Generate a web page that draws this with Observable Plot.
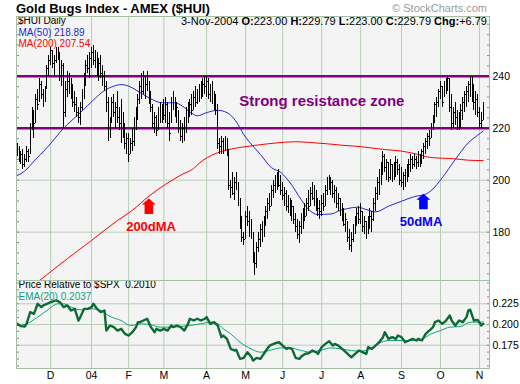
<!DOCTYPE html>
<html>
<head>
<meta charset="utf-8">
<script src="https://cdn.jsdelivr.net/npm/d3@7"></script>
<script src="https://cdn.jsdelivr.net/npm/@observablehq/plot@0.6"></script>
<style>
html, body { margin: 0; padding: 0; background: #ffffff; }
#chart { position: relative; width: 520px; height: 384px; overflow: hidden; background: #ffffff; font-family: 'Liberation Sans', Arial, sans-serif; }
#chart svg { position: absolute; left: 0; }
.lbl { position: absolute; white-space: nowrap; }
#title { left: 16px; top: 1.7px; font-size: 13px; line-height: 13px; font-weight: bold; color: #000; }
#copy { right: 33px; top: 3.4px; font-size: 11px; line-height: 11px; color: #9a9a9a; }
#hdr { right: 33px; top: 16.4px; font-size: 11px; line-height: 11px; color: #000; }
</style>
</head>
<body>
<div id="chart"></div>
<script>
// ---------------- text ----------------
const chartTitle = "Gold Bugs Index - AMEX ($HUI)";
const copyright = "\u00a9 StockCharts.com";
const symbolLabel = "$HUI Daily";
const lastDate = "3-Nov-2004";
const lastOpen = "223.00", lastHigh = "229.79", lastLow = "223.00", lastClose = "229.79", lastChg = "+6.79";
const resistanceLabel = "Strong resistance zone";

// ---------------- axes / ticks ----------------
const monthDay = [18, 40, 60, 79, 102, 123, 143, 164, 185, 207, 228, 249]; // trading-day index of first session of month
const monthLabel = ["D", "04", "F", "M", "A", "M", "J", "J", "A", "S", "O", "N"];
const priceTicks = [180, 200, 220, 240];
const relTicks = [0.175, 0.200, 0.225];
const resistance = [240, 220];

// ---------------- daily bars (trading-day index 0 = 4-Nov-2003) ----------------
const high = [
  214,213,211,212,210,213,212,222,228,227,
  233,235,239,238,235,236,244,248,251,250,
  248,251,251,249,246,245,238,242,241,239,
  237,234,232,228,230,235,241,246,248,249,
  251,252,250,249,247,248,244,242,238,232,
  224,232,233,230,234,228,231,226,222,218,
  218,216,220,224,228,233,238,241,242,240,
  242,238,234,229,226,225,228,230,229,231,
  232,230,226,232,234,232,230,227,223,222,
  224,228,230,231,233,234,236,235,237,238,
  239,240,240,239,237,238,234,233,229,216,
  217,216,217,216,212,200,203,201,203,199,
  193,186,180,188,190,188,185,180,172,176,
  180,183,184,186,190,193,195,198,200,202,
  203,204,202,199,197,196,194,193,192,190,
  187,185,184,187,189,191,193,196,197,199,
  198,196,193,192,194,195,198,201,202,201,
  200,198,197,195,193,191,189,187,184,181,
  180,183,186,189,190,191,188,186,184,186,
  189,188,193,197,201,204,207,211,210,208,
  207,208,206,207,209,208,206,205,203,204,
  206,208,210,209,210,209,211,210,212,214,
  216,218,219,222,225,230,232,235,238,236,
  238,239,240,239,233,228,230,227,226,229,
  232,234,236,238,240,240,237,234,233,228,
  226,229.79
];
const low = [
  209,207,206,204,205,207,207,210,219,216,
  222,227,230,231,228,230,235,240,244,243,
  240,245,246,238,236,220,224,232,233,231,
  228,226,224,222,221,227,231,236,241,239,
  243,244,243,240,238,239,236,234,226,215,
  216,222,224,220,222,219,214,216,212,210,
  207,210,211,213,219,223,229,231,233,231,
  234,229,226,220,218,217,219,222,222,223,
  222,220,215,222,227,224,222,218,215,214,
  215,218,222,224,225,227,228,229,230,231,
  232,233,232,231,230,229,227,225,212,210,
  210,210,211,209,196,193,194,192,196,190,
  181,176,175,177,182,178,177,168,163.5,166,
  172,174,176,178,182,185,188,190,193,195,
  196,197,194,192,190,188,187,186,184,183,
  180,177,175.5,179,181,184,186,188,190,192,
  190,188,186,185,186,188,190,194,196,194,
  193,191,189,188,186,184,182,180,176,173,
  172,176,179,182,183,183,180,179,177,179,
  181,180,184,188,192,194,198,202,203,200,
  199,200,199,200,201,202,198,197,196,197,
  199,201,203,204,205,204,205,205,206,208,
  210,212,213,216,219,222,224,228,231,228,
  232,233,234,226,219,220,221,219,219,220,
  223,226,228,230,232,230,227,225,224,220,
  220,223
];
const close = [
  211,208,210,206,208,211,209,220,226,222,
  231,229,237,233,232,234,243,246,250,245,
  246,249,248,240,244,226,235,238,236,233,
  230,229,226,224,228,233,239,244,243,247,
  249,246,248,242,245,241,240,236,230,218,
  222,230,226,228,224,222,216,220,214,216,
  210,214,215,221,226,231,236,234,240,237,
  239,231,228,222,224,219,226,224,227,225,
  229,222,218,230,231,226,228,220,217,220,
  218,226,224,229,227,232,230,233,235,233,
  237,236,238,233,235,231,232,227,214,213,
  215,212,214,211,198,197,195,199,197,192,
  183,178,177,186,184,180,183,170,168,174,
  177,181,178,184,188,191,190,196,198,199,
  201,198,196,194,195,190,192,188,190,185,
  182,179,182,181,187,186,191,190,195,193,
  196,190,189,188,191,190,196,199,197,199,
  195,196,191,193,188,186,183,185,178,175,
  177,181,184,187,185,188,182,184,179,184,
  186,185,191,195,199,202,205,209,205,207,
  201,206,203,202,207,204,200,199,202,201,
  204,206,208,206,208,207,209,208,211,213,
  215,217,216,221,223,229,230,234,236,230,
  237,238,239,228,222,226,224,221,224,227,
  230,233,234,237,235,233,230,231,226,222,
  223,229.79
];

// ---------------- moving averages ----------------
const ma50Day   = [0,4,9,16,25,34,42,47,52,56,60,64,71,78,85,89,94,97,102,108,113,118,122,128,131,137,142,147,153,157,162,169,174,178,183,189,193,200,207,214,220,223,229,236,243,248,251];
const ma50Value = [201.8,203.5,207.3,212.5,220,226,231.5,234.5,236.2,236.8,236.2,234.7,231.7,229.8,229.8,228.5,225.8,224.8,226,226.9,226,222.5,217.6,212.3,209.9,204.8,203,199,192.5,188.7,186.8,187,188.4,189.1,189.6,188.5,187.8,190,191.9,193.7,194.6,196,201,208,214.4,217.3,218.89];
const ma200Day   = [12,27,40,54,62,71,80,89,95,98,107,114,121,128,135,144,150,158,167,176,185,192,198,207,216,222,236,243,251];
const ma200Value = [161.4,169.8,176.8,184.5,188.4,193.9,198.5,202.3,204.5,206.5,210.3,211.8,212.7,213.4,214,214.6,214.8,214.5,214,213.4,212.9,212.3,211.8,211.2,209.9,208.8,208.2,207.7,207.54];

// ---------------- price relative to $SPX and its EMA(20) ----------------
const relDay   = [0,2,4,5,7,9,11,13,14,16,18,21,23,25,27,29,31,33,34,36,38,40,41,43,45,47,48,50,52,54,56,58,60,62,64,65,66,68,70,72,74,75,77,79,81,83,84,86,88,90,92,93,95,97,99,101,102,104,106,108,110,111,113,115,117,118,120,122,124,126,127,129,131,134,136,139,141,143,145,146,148,150,152,153,155,157,159,161,162,164,166,168,170,171,173,175,177,179,180,182,184,186,188,189,191,193,195,197,198,200,202,204,205,207,209,211,213,215,216,218,220,222,224,225,227,229,231,233,234,236,238,240,242,243,244,246,248,250,251];
const relValue = [.2008,.1980,.1976,.2008,.2149,.2129,.2250,.2210,.2230,.2250,.2270,.2290,.2270,.2210,.2230,.2169,.2189,.2048,.2089,.2189,.2189,.2210,.2250,.2189,.2149,.2169,.1927,.1988,.1968,.1927,.1948,.1887,.1867,.1907,.1968,.2028,.2028,.2048,.2069,.1968,.1907,.1948,.1927,.1948,.1927,.1988,.1968,.1988,.1968,.1927,.2008,.2069,.2048,.2069,.2048,.2069,.2089,.2008,.2028,.1988,.1847,.1867,.1827,.1706,.1686,.1694,.1585,.1597,.1666,.1613,.1565,.1597,.1585,.1686,.1746,.1774,.1786,.1746,.1706,.1718,.1706,.1597,.1585,.1613,.1645,.1653,.1686,.1666,.1645,.1726,.1766,.1798,.1746,.1766,.1746,.1706,.1666,.1625,.1605,.1645,.1686,.1666,.1645,.1726,.1706,.1746,.1786,.1847,.1907,.1827,.1847,.1827,.1867,.1847,.1786,.1807,.1827,.1807,.1827,.1807,.1887,.1927,.1968,.2028,.2048,.2008,.2048,.2109,.2048,.1988,.2048,.2028,.2089,.2169,.2177,.2048,.2056,.1988,.2010];
const emaDay   = [0,5,11,16,22,25,29,34,40,45,50,56,61,67,72,77,83,88,93,99,104,108,111,115,120,126,131,137,142,147,153,158,163,169,174,180,185,190,196,201,207,212,217,223,228,233,239,244,250,251];
const emaValue = [.1988,.2008,.2089,.2169,.2250,.2250,.2210,.2177,.2189,.2169,.2097,.2048,.1988,.2008,.1996,.1968,.1968,.1976,.1988,.2008,.2028,.2008,.1948,.1887,.1786,.1706,.1666,.1694,.1718,.1718,.1686,.1666,.1686,.1718,.1706,.1686,.1678,.1706,.1786,.1807,.1807,.1807,.1815,.1887,.1927,.1968,.1976,.2028,.2028,.2037];

// ---------------- annotations ----------------
const noteLabel = ["200dMA", "50dMA"];
const noteDay   = [72.1, 217.5];
const noteValue = [181.9, 184];
const noteColor = ["#ff0000", "#0000ff"];
const arrowDay   = [70.9, 218.8];
const arrowValue = [190, 191.8];
const zoneDay = 164.1, zoneValue = 230.5;

// ---------------- build tables ----------------
const bars = high.map((h, i) => ({day: i, high: h, low: low[i], close: close[i]}));
const ma50 = ma50Day.map((d, i) => ({day: d, value: ma50Value[i]}));
const ma200 = ma200Day.map((d, i) => ({day: d, value: ma200Value[i]}));
const rel = relDay.map((d, i) => ({day: d, value: relValue[i]}));
const ema = emaDay.map((d, i) => ({day: d, value: emaValue[i]}));
const notes = noteLabel.map((t, i) => ({text: t, day: noteDay[i], value: noteValue[i], color: noteColor[i], aday: arrowDay[i], avalue: arrowValue[i]}));
const monthName = new Map(monthDay.map((d, i) => [d, monthLabel[i]]));

const xDomain = [-0.4, 254.4];
const priceDomain = [161.4, 263];
const relDomain = [0.1469, 0.2531];
const priceMinor = d3.range(164, 262, 4);
const relMinor = d3.range(-3, 10).map(k => 0.175 + k * 0.025 / 3).filter(v => v > relDomain[0] && v < relDomain[1]);

const gridColor = "#b6ceb6";
const frameColor = "#a4bea4";
const bgColor = "#f4f4f4";
const sans = "'Liberation Sans', Arial, sans-serif";

const upArrow = {
  draw(ctx, size) {
    const k = Math.sqrt(size / Math.PI) / 8;
    ctx.moveTo(0, -7.75 * k);
    ctx.lineTo(7 * k, -1.75 * k);
    ctx.lineTo(4.3 * k, -1.75 * k);
    ctx.lineTo(4.3 * k, 7.75 * k);
    ctx.lineTo(-4.3 * k, 7.75 * k);
    ctx.lineTo(-4.3 * k, -1.75 * k);
    ctx.lineTo(-7 * k, -1.75 * k);
    ctx.closePath();
  }
};

const fmt2 = d3.format(".2f");
const fmt4 = d3.format(".4f");

const topPlot = Plot.plot({
  width: 520, height: 282,
  marginLeft: 16, marginRight: 31, marginTop: 16, marginBottom: 2,
  x: {domain: xDomain, axis: null},
  y: {domain: priceDomain, axis: null},
  style: {fontFamily: sans, fontSize: "10.5px", color: "black", background: "transparent", overflow: "visible"},
  marks: [
    Plot.frame({fill: bgColor, stroke: "none"}),
    Plot.gridX(monthDay, {stroke: gridColor, strokeOpacity: 1}),
    Plot.gridY(priceTicks, {stroke: gridColor, strokeOpacity: 1}),
    Plot.axisY(priceMinor, {anchor: "left", tickSize: 3, dx: 3, tickFormat: () => "", label: null, stroke: "#8a8a8a"}),
    Plot.axisY(priceMinor, {anchor: "right", tickSize: 3, dx: -3, tickFormat: () => "", label: null, stroke: "#8a8a8a"}),
    Plot.axisY(priceTicks, {anchor: "right", tickSize: 0, tickPadding: 3, label: null, fill: "black"}),
    Plot.ruleY(resistance, {stroke: "#800080", strokeWidth: 2.6}),
    Plot.line(ma200, {x: "day", y: "value", stroke: "#ff0000", strokeWidth: 1, curve: "monotone-x", clip: true}),
    Plot.line(ma50, {x: "day", y: "value", stroke: "#2424d6", strokeWidth: 1, curve: "monotone-x", clip: true}),
    Plot.ruleX(bars, {x: "day", y1: "low", y2: "high", stroke: "black", strokeWidth: 1, shapeRendering: "crispEdges"}),
    Plot.ruleY(bars, {y: "close", x1: "day", x2: d => d.day + 0.9, stroke: "black", strokeWidth: 1, shapeRendering: "crispEdges"}),
    Plot.text([resistanceLabel], {x: () => zoneDay, y: () => zoneValue, text: d => d, fill: "#800080", fontWeight: "bold", fontSize: 15, fontFamily: sans}),
    Plot.text(notes, {x: "day", y: "value", text: "text", fill: d => d.color, fontWeight: "bold", fontSize: 13, fontFamily: sans}),
    Plot.dot(notes.filter(d => d.color === "#ff0000"), {x: "aday", y: "avalue", symbol: upArrow, r: 8, fill: "#ff0000", stroke: "none"}),
    Plot.dot(notes.filter(d => d.color === "#0000ff"), {x: "aday", y: "avalue", symbol: upArrow, r: 8, fill: "#0000ff", stroke: "none"}),
    Plot.text([symbolLabel], {frameAnchor: "top-left", text: d => d, dx: 1.5, dy: 4.6, lineAnchor: "middle", fontSize: 10, fill: "black"}),
    Plot.text([`MA(50) ${fmt2(ma50Value[ma50Value.length - 1])}`], {frameAnchor: "top-left", text: d => d, dx: 2, dy: 15.9, lineAnchor: "middle", fontSize: 10, fill: "#1f1fe0"}),
    Plot.text([`MA(200) ${fmt2(ma200Value[ma200Value.length - 1])}`], {frameAnchor: "top-left", text: d => d, dx: 2, dy: 27.2, lineAnchor: "middle", fontSize: 10, fill: "#ff0000"}),
    Plot.frame({stroke: frameColor})
  ]
});

const bottomPlot = Plot.plot({
  width: 520, height: 104,
  marginLeft: 16, marginRight: 31, marginTop: 0, marginBottom: 16,
  x: {domain: xDomain, axis: null},
  y: {domain: relDomain, axis: null},
  style: {fontFamily: sans, fontSize: "10.5px", color: "black", background: "transparent", overflow: "visible"},
  marks: [
    Plot.frame({fill: bgColor, stroke: "none"}),
    Plot.gridX(monthDay, {stroke: gridColor, strokeOpacity: 1}),
    Plot.gridY(relTicks, {stroke: gridColor, strokeOpacity: 1}),
    Plot.axisY(relMinor, {anchor: "left", tickSize: 3, dx: 3, tickFormat: () => "", label: null, stroke: "#8a8a8a"}),
    Plot.axisY(relMinor, {anchor: "right", tickSize: 3, dx: -3, tickFormat: () => "", label: null, stroke: "#8a8a8a"}),
    Plot.axisY(relTicks, {anchor: "right", tickSize: 0, tickPadding: 3, label: null, tickFormat: d3.format(".3f"), fill: "black"}),
    Plot.axisX(monthDay, {anchor: "bottom", tickSize: 0, tickPadding: 3, label: null, tickFormat: d => monthName.get(d), fill: "black"}),
    Plot.line(ema, {x: "day", y: "value", stroke: "#10a27c", strokeWidth: 1, curve: "monotone-x"}),
    Plot.line(rel, {x: "day", y: "value", stroke: "#0c6a35", strokeWidth: 2.4, strokeLinejoin: "round"}),
    Plot.text([`Price Relative to $SPX  ${fmt4(relValue[relValue.length - 1])}`], {frameAnchor: "top-left", text: d => d, dx: 2, dy: 4.6, lineAnchor: "middle", fontSize: 10, fill: "black"}),
    Plot.text([`EMA(20) ${fmt4(emaValue[emaValue.length - 1])}`], {frameAnchor: "top-left", text: d => d, dx: 2, dy: 15.9, lineAnchor: "middle", fontSize: 10, fill: "#10a27c"}),
    Plot.frame({stroke: frameColor})
  ]
});

topPlot.style.top = "0px";
bottomPlot.style.top = "280px";
const root = document.getElementById("chart");
root.appendChild(topPlot);
root.appendChild(bottomPlot);

// title, copyright and last-bar header (HTML text above the plot)
const titleDiv = document.createElement("div");
titleDiv.className = "lbl"; titleDiv.id = "title"; titleDiv.textContent = chartTitle;
const copyDiv = document.createElement("div");
copyDiv.className = "lbl"; copyDiv.id = "copy"; copyDiv.textContent = copyright;
const hdrDiv = document.createElement("div");
hdrDiv.className = "lbl"; hdrDiv.id = "hdr";
const segs = [[lastDate + " ", false], ["O:", true], [lastOpen + " ", false], ["H:", true], [lastHigh + " ", false],
              ["L:", true], [lastLow + " ", false], ["C:", true], [lastClose + " ", false], ["Chg:", true], [lastChg, false]];
segs.forEach(([t, b]) => {
  const s = document.createElement(b ? "b" : "span");
  s.textContent = t;
  s.style.whiteSpace = "pre";
  hdrDiv.appendChild(s);
});
root.appendChild(titleDiv);
root.appendChild(copyDiv);
root.appendChild(hdrDiv);
</script>
</body>
</html>
